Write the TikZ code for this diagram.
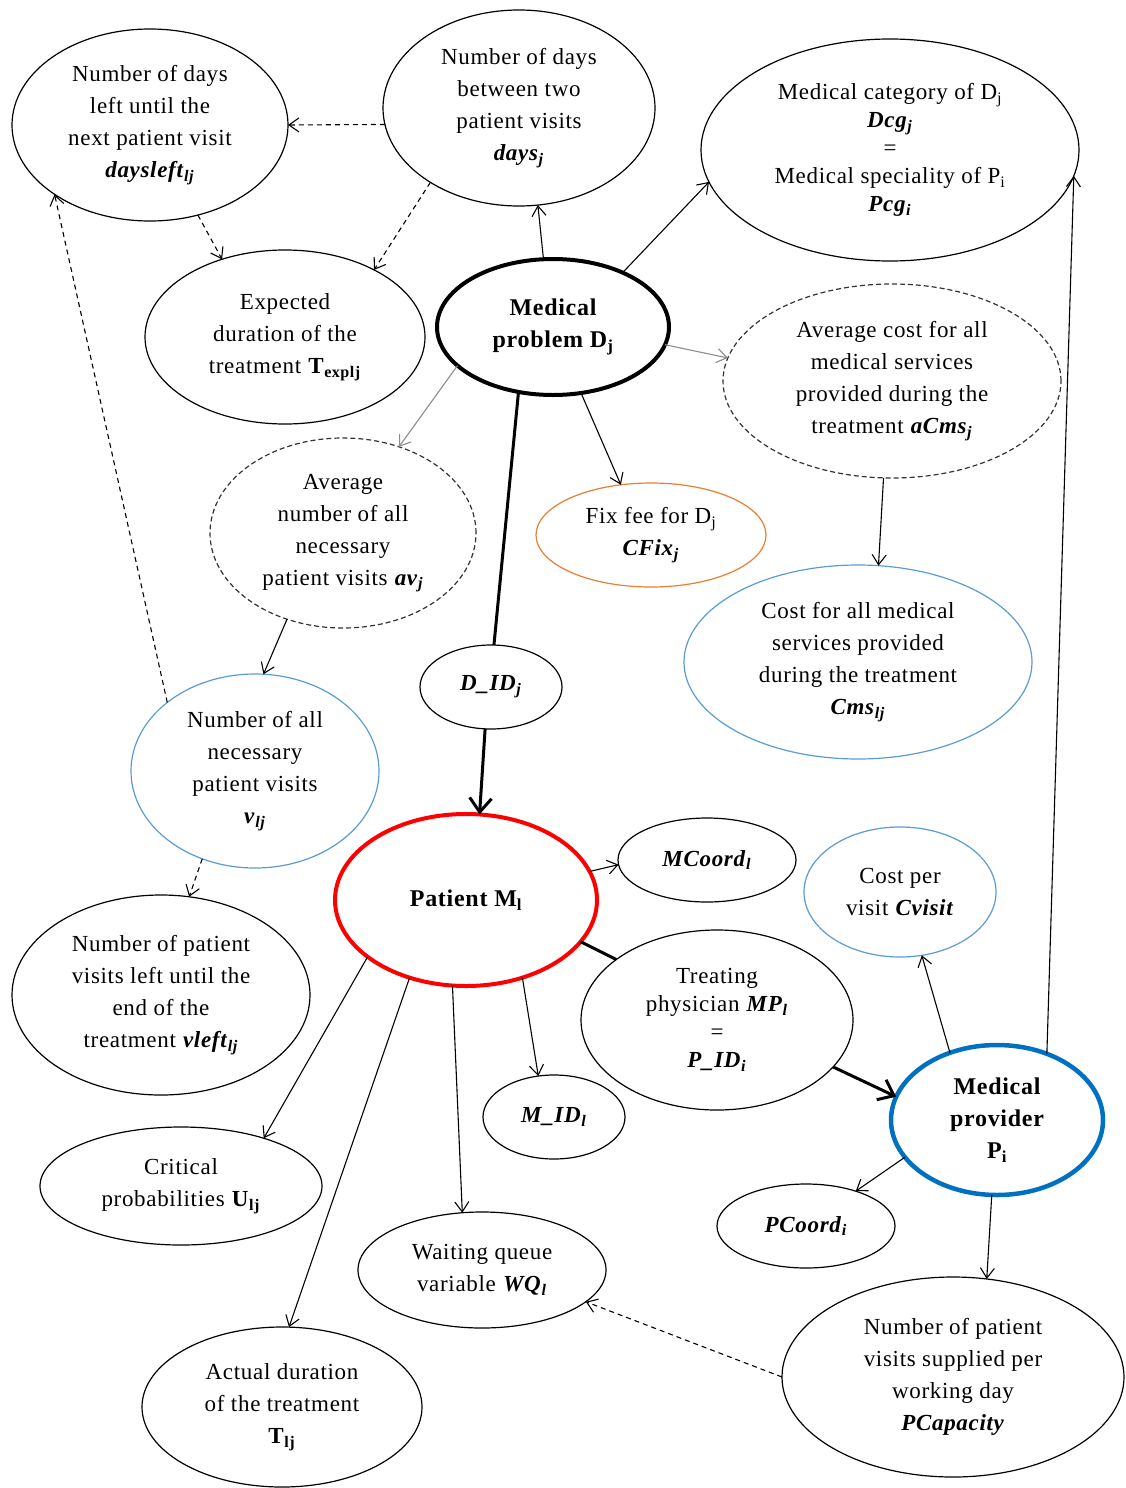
\documentclass[tikz,border=0pt]{standalone}
\usepackage{fontspec}
\setmainfont[LetterSpace=3]{Liberation Serif}
\usetikzlibrary{shapes.geometric,arrows.meta}

\definecolor{provblue}{RGB}{0,112,192}
\definecolor{lightblue}{RGB}{91,155,213}
\definecolor{fixorange}{RGB}{237,125,49}

\newcommand{\varname}[2]{\textbf{\textit{#1}}\textsubscript{\textbf{\textit{#2}}}}
\newcommand{\smallsub}[1]{\textsubscript{#1}}

\begin{document}
\begin{tikzpicture}[x=1pt, y=-1pt, >={Straight Barb[length=10pt,width=14pt]},
    font=\fontsize{23}{32}\selectfont,
    bubble/.style={ellipse, draw, line width=1.2pt, inner sep=0pt, outer sep=0pt, align=center},
    ebox/.style 2 args={minimum width=#1pt, minimum height=#2pt},
    dashbubble/.style={bubble, draw=black!80, dash pattern=on 5pt off 3pt},
    bluebubble/.style={bubble, draw=lightblue},
    keybubble/.style={bubble, line width=4pt, font=\fontsize{24}{32}\selectfont\bfseries},
    link/.style={->, line width=1.1pt},
    dlink/.style={link, dash pattern=on 5pt off 4pt},
    glink/.style={link, draw=black!45},
    boldlink/.style={line width=3pt},
    boldarrow/.style={boldlink, -{Straight Barb[length=14pt,width=22pt]}}]
    \useasboundingbox (0,0) rectangle (1126,1488);

    % Medical problem and its attributes
    \node[bubble, ebox={276}{192}] (daysleft) at (150,125) {Number of days\\left until the\\next patient visit\\\varname{daysleft}{lj}};
    \node[bubble, ebox={272}{196}] (days) at (519,108) {Number of days\\between two\\patient visits\\\varname{days}{j}};
    \node[bubble, ebox={378}{222}, font=\fontsize{23}{28}\selectfont] (dcg) at (890,150) {Medical category of D\smallsub{j}\\\varname{Dcg}{j}\\=\\Medical speciality of P\smallsub{i}\\\varname{Pcg}{i}};
    \node[bubble, ebox={280}{174}] (texp) at (285,337) {Expected\\duration of the\\treatment \textbf{T}\smallsub{\textbf{explj}}};
    \node[keybubble, ebox={232}{136}] (dj) at (553,327) {Medical\\problem D\smallsub{j}};
    \node[dashbubble, ebox={338}{194}] (acms) at (892,381) {Average cost for all\\medical services\\provided during the\\treatment \varname{aCms}{j}};
    \node[dashbubble, ebox={266}{190}] (av) at (343,533) {Average\\number of all\\necessary\\patient visits \varname{av}{j}};
    \node[bubble, draw=fixorange, ebox={230}{104}] (cfix) at (651,535) {Fix fee for D\smallsub{j}\\\varname{CFix}{j}};
    \node[bluebubble, ebox={348}{194}] (cms) at (858,662) {Cost for all medical\\services provided\\during the treatment\\\varname{Cms}{lj}};
    \node[bubble, ebox={142}{84}] (did) at (491,687) {\varname{D\_ID}{j}};
    \node[bluebubble, ebox={248}{194}] (vlj) at (255,771) {Number of all\\necessary\\patient visits\\\varname{v}{lj}};

    % Patient and medical provider
    \node[keybubble, draw=red, ebox={262}{172}] (ml) at (466,900) {Patient M\smallsub{l}};
    \node[bubble, ebox={178}{84}] (mcoord) at (707,860) {\varname{MCoord}{l}};
    \node[bluebubble, ebox={192}{130}] (cvisit) at (900,892) {Cost per\\visit \textbf{\textit{Cvisit}}};
    \node[bubble, ebox={298}{200}] (vleft) at (161,995) {Number of patient\\visits left until the\\end of the\\treatment \varname{vleft}{lj}};
    \node[bubble, ebox={272}{180}, font=\fontsize{23}{28}\selectfont] (mp) at (717,1020) {Treating\\physician \varname{MP}{l}\\=\\\varname{P\_ID}{i}};
    \node[keybubble, draw=provblue, line width=4.5pt, ebox={212}{150}] (pi) at (997,1120) {Medical\\provider\\P\smallsub{i}};
    \node[bubble, ebox={142}{84}] (mid) at (554,1117) {\varname{M\_ID}{l}};
    \node[bubble, ebox={282}{118}] (ulj) at (181,1186) {Critical\\probabilities \textbf{U}\smallsub{\textbf{lj}}};
    \node[bubble, ebox={178}{84}] (pcoord) at (806,1226) {\varname{PCoord}{i}};
    \node[bubble, ebox={248}{116}] (wq) at (482,1270) {Waiting queue\\variable \varname{WQ}{l}};
    \node[bubble, ebox={342}{200}] (pcap) at (953,1377) {Number of patient\\visits supplied per\\working day\\\textbf{\textit{PCapacity}}};
    \node[bubble, ebox={280}{160}] (tlj) at (282,1407) {Actual duration\\of the treatment\\\textbf{T}\smallsub{\textbf{lj}}};

    % Dashed dependencies
    \draw[dlink] (days.187) -- (daysleft.0);
    \draw[dlink] (daysleft.-62) -- (texp.129);
    \draw[dlink] (days.220) -- (texp.37);
    \draw[dlink] (vlj.142) -- (daysleft.216);
    \draw[dlink] (vlj.239) -- (vleft.74);
    \draw[dlink] (pcap.180) -- (wq.-17);

    % Links of the medical problem
    \draw[link] (dj.98) -- (days.-79);
    \draw[link] (dj.38) -- (dcg.190);
    \draw[glink] (dj.-9) -- (acms.172);
    \draw[glink] (dj.202) -- (av.57);
    \draw[link] (dj.-67) -- (cfix.121);
    \draw[boldlink] (dj.-118) -- (did.86);
    \draw[boldarrow] (did.-98) -- (ml.81);
    \draw[link] (acms.-95) -- (cms.78);
    \draw[link] (av.237) -- (vlj.85);

    % Links of the patient
    \draw[link] (ml.13) -- (mcoord.183);
    \draw[boldlink] (ml.-20) -- (mp.149);
    \draw[boldarrow] (mp.-22) -- (pi.167);
    \draw[link] (ml.-54) -- (mid.111);
    \draw[link] (ml.210) -- (ulj.30);
    \draw[link] (ml.234) -- (tlj.85);
    \draw[link] (ml.261) -- (wq.109);

    % Links of the medical provider
    \draw[link] (pi.125) -- (cvisit.-71);
    \draw[link] (pi.53) -- (dcg.-8);
    \draw[link] (pi.202) -- (pcoord.35);
    \draw[link] (pi.-94) -- (pcap.71);
\end{tikzpicture}
\end{document}
